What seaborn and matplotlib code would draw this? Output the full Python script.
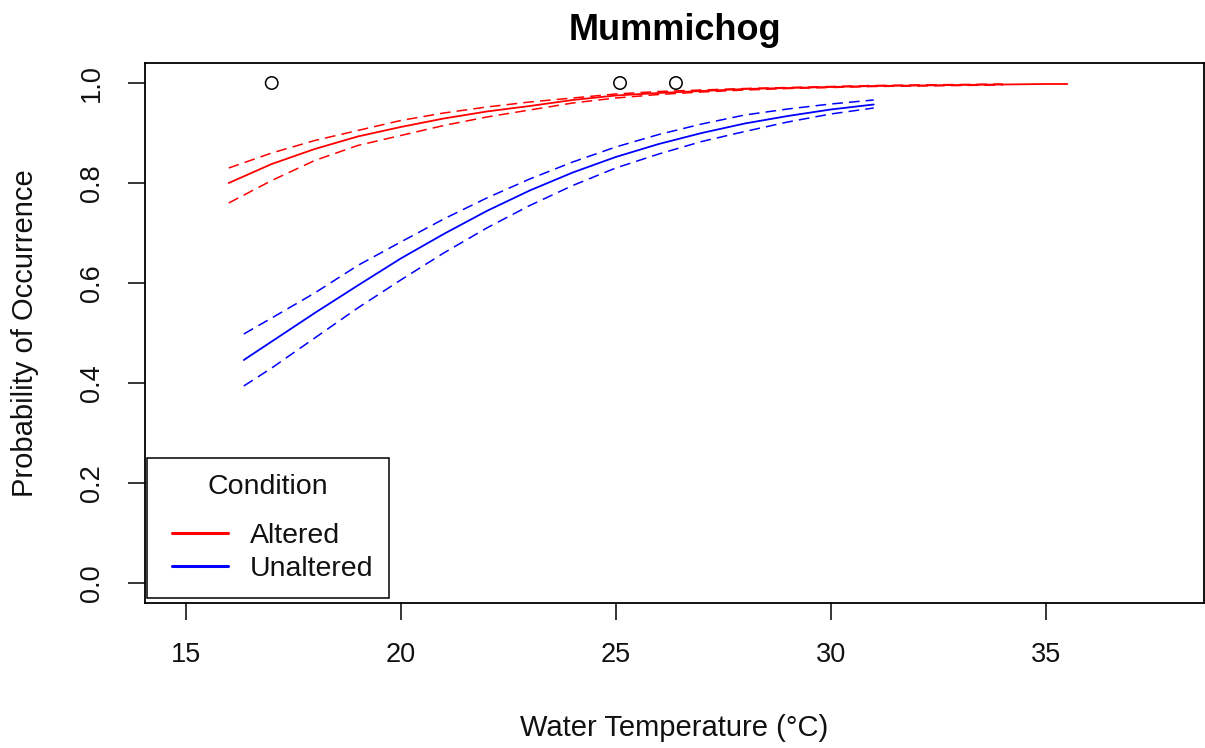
import numpy as np
import pandas as pd
import matplotlib
matplotlib.use("Agg")
import matplotlib.pyplot as plt
from matplotlib.legend_handler import HandlerLine2D
import seaborn as sns

# ---- data ----
alt_temp = [16, 17, 18, 19, 20, 21, 22, 23, 24, 25, 26, 27, 28, 29, 30, 31, 32, 33, 34, 35, 35.5]
alt_fit = [0.800, 0.838, 0.868, 0.893, 0.912, 0.929, 0.943, 0.954, 0.966, 0.975, 0.980,
           0.984, 0.988, 0.990, 0.992, 0.994, 0.995, 0.996, 0.997, 0.998, 0.998]
alt_ci_temp = [16, 17, 18, 19, 20, 21, 22, 23, 24, 25, 26, 27, 28, 29, 30, 31, 32, 33, 34]
alt_upper = [0.830, 0.860, 0.885, 0.905, 0.925, 0.940, 0.952, 0.962, 0.970, 0.978, 0.983,
             0.986, 0.989, 0.991, 0.993, 0.995, 0.996, 0.997, 0.998]
alt_lower = [0.760, 0.805, 0.845, 0.875, 0.895, 0.915, 0.932, 0.946, 0.960, 0.970, 0.977,
             0.982, 0.986, 0.989, 0.991, 0.993, 0.994, 0.995, 0.996]

unalt_temp = [16.35, 17, 18, 19, 20, 21, 22, 23, 24, 25, 26, 27, 28, 29, 30, 31]
unalt_fit = [0.446, 0.483, 0.540, 0.595, 0.649, 0.698, 0.744, 0.785, 0.821, 0.852, 0.878,
             0.900, 0.919, 0.934, 0.947, 0.957]
unalt_upper = [0.498, 0.530, 0.580, 0.635, 0.682, 0.728, 0.770, 0.808, 0.842, 0.872, 0.897,
               0.918, 0.936, 0.948, 0.958, 0.966]
unalt_lower = [0.394, 0.430, 0.490, 0.550, 0.606, 0.660, 0.710, 0.755, 0.795, 0.830, 0.858,
               0.883, 0.903, 0.922, 0.938, 0.950]

obs_temp = [17.0, 25.1, 26.4]
obs_occ = [1.0, 1.0, 1.0]

x_ticks = [15, 20, 25, 30, 35]
y_ticks = [0.0, 0.2, 0.4, 0.6, 0.8, 1.0]

# ---- style ----
sns.set_theme(style="white")
plt.rcParams["font.family"] = ["Liberation Sans", "DejaVu Sans"]
FS_TICK = 19.5
FS_LAB = 21
FS_LEG = 20.5

W, H = 1205, 748
fig = plt.figure(figsize=(W / 100, H / 100), dpi=100)
L, R, T, B = 145, 1204, 63, 603
ax = fig.add_axes([L / W, 1 - B / H, (R - L) / W, (B - T) / H])

dash = (0, (7, 4))
lw = 1.1

sns.lineplot(x=alt_ci_temp, y=alt_upper, ax=ax, color="red", lw=lw, linestyle=dash)
sns.lineplot(x=alt_ci_temp, y=alt_lower, ax=ax, color="red", lw=lw, linestyle=dash)
sns.lineplot(x=unalt_temp, y=unalt_upper, ax=ax, color="blue", lw=lw, linestyle=dash)
sns.lineplot(x=unalt_temp, y=unalt_lower, ax=ax, color="blue", lw=lw, linestyle=dash)
sns.lineplot(x=alt_temp, y=alt_fit, ax=ax, color="red", lw=1.3, label="Altered")
sns.lineplot(x=unalt_temp, y=unalt_fit, ax=ax, color="blue", lw=1.3, label="Unaltered")
sns.scatterplot(x=obs_temp, y=obs_occ, ax=ax, marker="o", s=80, facecolor="none",
                edgecolor="black", linewidth=1.1, zorder=5)

ax.set_xlim(14.053, 38.68)
ax.set_ylim(-0.04, 1.04)
ax.set_xticks(x_ticks)
ax.set_xticklabels([str(t) for t in x_ticks])
ax.set_yticks(y_ticks)
ax.set_yticklabels([f"{t:.1f}" for t in y_ticks], rotation=90, va="center")

for s in ax.spines.values():
    s.set_color("black")
    s.set_linewidth(1.3)

ax.tick_params(axis="both", which="major", direction="out", length=12, width=1.1,
               color="black", labelsize=FS_TICK, labelcolor="#111111", bottom=True, left=True)
ax.tick_params(axis="x", pad=16)
ax.tick_params(axis="y", pad=17)

ax.set_xlabel("Water Temperature (°C)", fontsize=FS_LAB, color="#111111", va="center")
ax.xaxis.set_label_coords(0.5, (B - 728) / (B - T))
ax.set_ylabel("Probability of Occurrence", fontsize=FS_LAB, color="#111111", va="center")
ax.yaxis.set_label_coords((25 - L) / (R - L), 0.5)
ax.set_title("Mummichog", fontsize=26, fontweight="bold", pad=16.5, color="black")

xpad = 0.33
leg = ax.legend(title="Condition", loc="lower left",
                bbox_to_anchor=(2 / (R - L), 5 / (B - T)),
                borderaxespad=0.0, fontsize=FS_LEG, title_fontsize=FS_LEG, frameon=True,
                fancybox=False, edgecolor="black", handlelength=1.95 + xpad,
                handletextpad=0.78, borderpad=0.55, labelspacing=0.25,
                handler_map={plt.Line2D: HandlerLine2D(xpad=xpad)})
leg.get_frame().set_linewidth(1.1)
leg.get_frame().set_alpha(1)
leg._legend_box.sep = 17
for txt in leg.get_texts():
    txt.set_color("#111111")
leg.get_title().set_color("#111111")
for line in leg.get_lines():
    line.set_linewidth(2.2)
    line.set_linestyle("-")

fig.savefig("out.png", dpi=100)
